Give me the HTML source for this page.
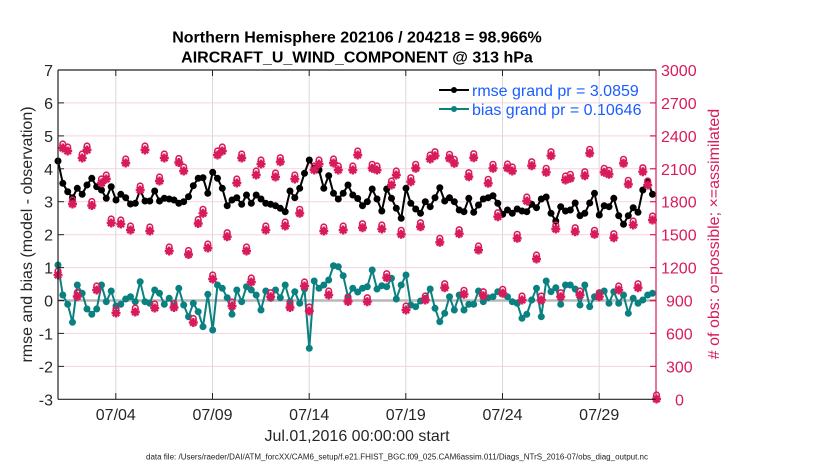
<!DOCTYPE html>
<html><head><meta charset="utf-8"><style>
html,body{margin:0;padding:0;background:#fff;}
svg{display:block;font-family:"Liberation Sans",Arial,sans-serif;}
</style></head><body>
<svg width="830" height="470" viewBox="0 0 830 470" xmlns="http://www.w3.org/2000/svg">
<defs>
<marker id="mk" markerUnits="userSpaceOnUse" viewBox="-5 -5 10 10" refX="0" refY="0" markerWidth="10" markerHeight="10" overflow="visible"><circle cx="0" cy="0" r="3.5" fill="#000"/></marker>
<marker id="mt" markerUnits="userSpaceOnUse" viewBox="-5 -5 10 10" refX="0" refY="0" markerWidth="10" markerHeight="10" overflow="visible"><circle cx="0" cy="0" r="3.5" fill="#0a8080"/></marker>
<marker id="mp" markerUnits="userSpaceOnUse" viewBox="-6 -10 12 16" refX="0" refY="0" markerWidth="12" markerHeight="16" overflow="visible"><path d="M-4.5,0H4.5M0,-4.5V4.5M-3.2,-3.2L3.2,3.2M-3.2,3.2L3.2,-3.2" stroke="#d81b5a" stroke-width="2.4" fill="none"/><circle cx="0" cy="0" r="2.2" fill="#d81b5a"/><circle cx="0" cy="-4" r="2.8" fill="none" stroke="#d81b5a" stroke-width="1.6"/></marker>
</defs>
<rect width="830" height="470" fill="#fff"/>
<g stroke="#f5d3df" stroke-width="1">
<line x1="58" y1="102.9" x2="656" y2="102.9"/><line x1="58" y1="135.9" x2="656" y2="135.9"/><line x1="58" y1="168.8" x2="656" y2="168.8"/><line x1="58" y1="201.7" x2="656" y2="201.7"/><line x1="58" y1="234.7" x2="656" y2="234.7"/><line x1="58" y1="267.6" x2="656" y2="267.6"/><line x1="58" y1="333.4" x2="656" y2="333.4"/><line x1="58" y1="366.4" x2="656" y2="366.4"/>
</g>
<g stroke="#dadada" stroke-width="1">
<line x1="115.8" y1="70" x2="115.8" y2="399"/><line x1="212.5" y1="70" x2="212.5" y2="399"/><line x1="309.2" y1="70" x2="309.2" y2="399"/><line x1="405.8" y1="70" x2="405.8" y2="399"/><line x1="502.5" y1="70" x2="502.5" y2="399"/><line x1="599.2" y1="70" x2="599.2" y2="399"/>
</g>
<line x1="58" y1="300.5" x2="656" y2="300.5" stroke="#b8b8b8" stroke-width="2.5"/>
<polyline fill="none" stroke="#000" stroke-width="2" stroke-linejoin="round" marker-start="url(#mk)" marker-mid="url(#mk)" marker-end="url(#mk)" points="58.0,161 62.8,183.3 67.7,191.7 72.5,197.7 77.3,188.3 82.2,194.3 87.0,185 91.8,178.3 96.7,186.7 101.5,190 106.3,198.3 111.2,186.7 116.0,200 120.8,194.3 125.7,197.7 130.5,204 135.3,203.3 140.2,190 145.0,201 149.8,201 154.7,191 159.5,201 164.3,198.3 169.2,199 174.0,200 178.8,203.3 183.7,201.7 188.5,196.7 193.3,185.7 198.2,178.3 203.0,177.7 207.8,193.3 212.7,172.3 217.5,178.3 222.3,188.3 227.2,205.7 232.0,200 236.8,197.7 241.7,204.3 246.5,195 251.3,203.3 256.2,195 261.0,199 265.8,203.3 270.7,204.3 275.5,205.7 280.3,208.3 285.2,211.7 290.0,191 294.8,197.7 299.7,188.3 304.5,173.3 309.3,160 314.2,168.3 319.0,170 323.8,188.3 328.7,175.7 333.5,193.3 338.3,199 343.2,193.3 348.0,185 352.8,195 357.7,198.5 362.5,205.7 367.3,201.7 372.2,189 377.0,199 381.8,211 386.7,189 391.5,198.3 396.3,208.3 401.2,218.3 406.0,188.3 410.8,203.3 415.7,209 420.5,213.3 425.3,201.7 430.2,206.7 435.0,197.7 439.8,187.7 444.7,201 449.5,197.7 454.3,201.7 459.2,210 464.0,211.7 468.8,198.3 473.7,212.3 478.5,205 483.3,199 488.2,197.7 493.0,195.7 497.8,203.3 502.7,214.3 507.5,210 512.3,213.3 517.2,209 522.0,211 526.8,211.7 531.7,204.3 536.5,207.7 541.3,199 546.2,197 551.0,213.3 555.8,221 560.7,206.7 565.5,211 570.3,210 575.2,203 580.0,215.7 584.8,213.3 589.7,203 594.5,193.3 599.3,215 604.2,205.7 609.0,206.7 613.8,198.3 618.7,215.7 623.5,224.3 628.3,215.7 633.2,207.7 638.0,212.3 642.8,190 647.7,181 652.5,194.3"/>
<polyline fill="none" stroke="#0a8080" stroke-width="2" stroke-linejoin="round" marker-start="url(#mt)" marker-mid="url(#mt)" marker-end="url(#mt)" points="58.0,265 62.8,295 67.7,304.3 72.5,322.3 77.3,285 82.2,293.3 87.0,309 91.8,314.3 96.7,309 101.5,285 106.3,301.7 111.2,291 116.0,306 120.8,304.3 125.7,299 130.5,296.7 135.3,301.7 140.2,281.7 145.0,301.7 149.8,303.3 154.7,290 159.5,293.3 164.3,304.3 169.2,298.3 174.0,305.7 178.8,288.3 183.7,305 188.5,316.7 193.3,303.3 198.2,311.7 203.0,326.7 207.8,294.3 212.7,330 217.5,285 222.3,288.3 227.2,297.7 232.0,314.3 236.8,290 241.7,301.7 246.5,286.7 251.3,290 256.2,295 261.0,310 265.8,291 270.7,298.3 275.5,290 280.3,297.7 285.2,285 290.0,301.7 294.8,291.7 299.7,303.3 304.5,289 309.3,348.3 314.2,281 319.0,288.3 323.8,285 328.7,280 333.5,265.7 338.3,266.7 343.2,275.7 348.0,296.7 352.8,288.3 357.7,292 362.5,288.3 367.3,286.7 372.2,270 377.0,289 381.8,285.7 386.7,286.7 391.5,278.3 396.3,299 401.2,285 406.0,275 410.8,305 415.7,306.7 420.5,301 425.3,298.3 430.2,289 435.0,308.3 439.8,321.7 444.7,313.3 449.5,296.7 454.3,310 459.2,295 464.0,310 468.8,304.3 473.7,304.3 478.5,291 483.3,301.7 488.2,297.7 493.0,296.7 497.8,291.7 502.7,293.3 507.5,296.7 512.3,301.7 517.2,303.3 522.0,318.3 526.8,314.3 531.7,300 536.5,288.3 541.3,316.7 546.2,281 551.0,291.7 555.8,287.7 560.7,304.3 565.5,285 570.3,285 575.2,289 580.0,305 584.8,285 589.7,306.7 594.5,296.7 599.3,293.3 604.2,291 609.0,303.3 613.8,291.7 618.7,303.3 623.5,295 628.3,313.3 633.2,298.3 638.0,303.3 642.8,300 647.7,295 652.5,293.3"/>
<polyline fill="none" stroke="none" marker-start="url(#mp)" marker-mid="url(#mp)" marker-end="url(#mp)" points="58.0,275 62.8,148 67.7,151 72.5,204 77.3,296.5 82.2,158 87.0,150 91.8,205.5 96.7,290 101.5,183 106.3,179 111.2,223 116.0,313 120.8,224 125.7,163 130.5,230 135.3,312 140.2,190 145.0,150 149.8,231 154.7,308 159.5,181 164.3,158 169.2,251 174.0,307.5 178.8,162.5 183.7,171 188.5,254.5 193.3,322.5 198.2,223.5 203.0,213.3 207.8,248 212.7,279 217.5,155 222.3,151 227.2,236.7 232.0,306 236.8,183 241.7,158 246.5,251 251.3,282 256.2,175 261.0,164 265.8,230 270.7,296.7 275.5,177 280.3,161.7 285.2,226 290.0,307.5 294.8,179 299.7,213.3 304.5,286 309.3,311 314.2,170 319.0,164 323.8,231 328.7,295 333.5,163 338.3,170 343.2,230 348.0,301.5 352.8,170 357.7,155 362.5,227.7 367.3,301.7 372.2,168.3 377.0,170 381.8,229 386.7,277.7 391.5,185 396.3,175 401.2,234.3 406.0,310 410.8,181.7 415.7,168.3 420.5,226.7 425.3,300 430.2,159 435.0,155.7 439.8,242.3 444.7,287.7 449.5,158.3 454.3,163.3 459.2,233.7 464.0,294.3 468.8,176.7 473.7,157.7 478.5,250 483.3,295.7 488.2,183.3 493.0,168.3 497.8,216.7 502.7,293.3 507.5,168 512.3,171 517.2,238.3 522.0,300 526.8,201 531.7,165.7 536.5,259 541.3,300 546.2,172.3 551.0,155.7 555.8,229 560.7,296.7 565.5,180 570.3,178.3 575.2,231.7 580.0,295 584.8,175.7 589.7,153.3 594.5,234.3 599.3,296.7 604.2,172.3 609.0,174.3 613.8,237.7 618.7,290 623.5,163.3 628.3,184.3 633.2,225 638.0,287.7 642.8,171.7 647.7,185 652.5,220 656.5,399"/>
<g stroke="#222" stroke-width="1.2" fill="none">
<line x1="58" y1="70" x2="656" y2="70"/>
<line x1="58" y1="399.3" x2="656" y2="399.3"/>
<line x1="58" y1="70" x2="58" y2="399.3"/>
</g>
<g stroke="#222" stroke-width="1">
<line x1="115.8" y1="399" x2="115.8" y2="393"/><line x1="212.5" y1="399" x2="212.5" y2="393"/><line x1="309.2" y1="399" x2="309.2" y2="393"/><line x1="405.8" y1="399" x2="405.8" y2="393"/><line x1="502.5" y1="399" x2="502.5" y2="393"/><line x1="599.2" y1="399" x2="599.2" y2="393"/>
<line x1="115.8" y1="70" x2="115.8" y2="76"/><line x1="212.5" y1="70" x2="212.5" y2="76"/><line x1="309.2" y1="70" x2="309.2" y2="76"/><line x1="405.8" y1="70" x2="405.8" y2="76"/><line x1="502.5" y1="70" x2="502.5" y2="76"/><line x1="599.2" y1="70" x2="599.2" y2="76"/>
<line x1="58" y1="102.9" x2="64" y2="102.9"/><line x1="58" y1="135.9" x2="64" y2="135.9"/><line x1="58" y1="168.8" x2="64" y2="168.8"/><line x1="58" y1="201.7" x2="64" y2="201.7"/><line x1="58" y1="234.7" x2="64" y2="234.7"/><line x1="58" y1="267.6" x2="64" y2="267.6"/><line x1="58" y1="300.5" x2="64" y2="300.5"/><line x1="58" y1="333.4" x2="64" y2="333.4"/><line x1="58" y1="366.4" x2="64" y2="366.4"/>
</g>
<g stroke="#d81b5a" stroke-width="1.2">
<line x1="656" y1="70" x2="656" y2="399.3"/>
<line x1="656" y1="102.9" x2="650" y2="102.9"/><line x1="656" y1="135.9" x2="650" y2="135.9"/><line x1="656" y1="168.8" x2="650" y2="168.8"/><line x1="656" y1="201.7" x2="650" y2="201.7"/><line x1="656" y1="234.7" x2="650" y2="234.7"/><line x1="656" y1="267.6" x2="650" y2="267.6"/><line x1="656" y1="300.5" x2="650" y2="300.5"/><line x1="656" y1="333.4" x2="650" y2="333.4"/><line x1="656" y1="366.4" x2="650" y2="366.4"/>
</g>
<g font-size="16" fill="#262626" text-anchor="end">
<text x="53" y="76">7</text><text x="53" y="108.9">6</text><text x="53" y="141.9">5</text><text x="53" y="174.8">4</text><text x="53" y="207.7">3</text><text x="53" y="240.7">2</text><text x="53" y="273.6">1</text><text x="53" y="306.5">0</text><text x="53" y="339.4">-1</text><text x="53" y="372.4">-2</text><text x="53" y="405.3">-3</text>
</g>
<g font-size="16" fill="#d81b5a" text-anchor="start">
<text x="661" y="76">3000</text><text x="661" y="108.9">2700</text><text x="661" y="141.9">2400</text><text x="661" y="174.8">2100</text><text x="661" y="207.7">1800</text><text x="661" y="240.7">1500</text><text x="661" y="273.6">1200</text><text x="666" y="306.5">900</text><text x="666" y="339.4">600</text><text x="666" y="372.4">300</text><text x="675" y="405.3">0</text>
</g>
<g font-size="16" fill="#262626" text-anchor="middle">
<text x="115.8" y="420">07/04</text><text x="212.5" y="420">07/09</text><text x="309.2" y="420">07/14</text><text x="405.8" y="420">07/19</text><text x="502.5" y="420">07/24</text><text x="599.2" y="420">07/29</text>
<text x="357" y="441">Jul.01,2016 00:00:00 start</text>
</g>
<text x="146" y="459.5" font-size="8" fill="#222" textLength="502" lengthAdjust="spacingAndGlyphs">data file: /Users/raeder/DAI/ATM_forcXX/CAM6_setup/f.e21.FHIST_BGC.f09_025.CAM6assim.011/Diags_NTrS_2016-07/obs_diag_output.nc</text>
<text transform="translate(32,234.5) rotate(-90)" font-size="16" fill="#262626" text-anchor="middle">rmse and bias (model - observation)</text>
<text transform="translate(719,234) rotate(-90)" font-size="16" fill="#d81b5a" text-anchor="middle"># of obs: o=possible; ×=assimilated</text>
<g font-size="16" font-weight="bold" fill="#000" text-anchor="middle">
<text x="357" y="42.5">Northern Hemisphere 202106 / 204218 = 98.966%</text>
<text x="357" y="62.5">AIRCRAFT_U_WIND_COMPONENT @ 313 hPa</text>
</g>
<line x1="439" y1="90" x2="469" y2="90" stroke="#000" stroke-width="2"/><circle cx="454" cy="90" r="3" fill="#000"/>
<line x1="439" y1="109" x2="469" y2="109" stroke="#0a8080" stroke-width="2"/><circle cx="454" cy="109" r="3" fill="#0a8080"/>
<g font-size="16" fill="#1a5cff">
<text x="472" y="96">rmse grand pr = 3.0859</text>
<text x="472" y="115">bias grand pr = 0.10646</text>
</g>
</svg>
</body></html>
